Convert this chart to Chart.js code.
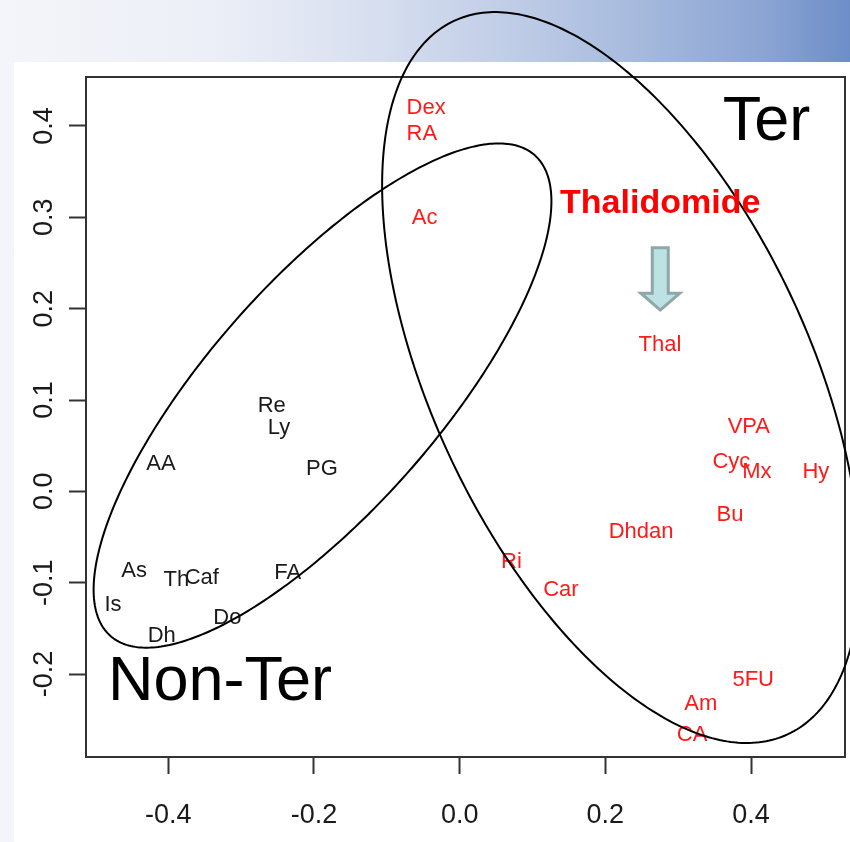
<!DOCTYPE html>
<html>
<head>
<meta charset="utf-8">
<script src="https://cdn.jsdelivr.net/npm/chart.js@4.4.1/dist/chart.umd.min.js"></script>
<style>
    html, body { margin: 0; padding: 0; }
    body {
        width: 850px; height: 842px; overflow: hidden; position: relative;
        background: linear-gradient(to right, #f4f5fa 0%, #eceff7 25%, #d6deef 45%, #c0cde7 60%, #a6badd 75%, #8ba4d3 90%, #6d8ec8 100%);
    }
    #panel { position: absolute; left: 14px; top: 62px; width: 836px; height: 780px; background: #fff; }
    #chartPCA { position: absolute; left: 0; top: 0; }
</style>
</head>
<body>
<div id="panel"></div>
<canvas id="chartPCA" width="850" height="842"></canvas>
<script>
// tick labels
const xTicks = [-0.4, -0.2, 0.0, 0.2, 0.4];
const yTicks = [-0.2, -0.1, 0.0, 0.1, 0.2, 0.3, 0.4];

// non teratogenic compounds (black)
const nonTerNames = ['AA', 'Re', 'Ly', 'PG', 'As', 'Th', 'Caf', 'FA', 'Is', 'Dh', 'Do'];
const nonTerX = [-0.410, -0.258, -0.248, -0.189, -0.447, -0.389, -0.354, -0.236, -0.476, -0.409, -0.319];
const nonTerY = [0.032, 0.096, 0.072, 0.027, -0.085, -0.095, -0.093, -0.087, -0.122, -0.156, -0.136];

// teratogenic compounds (red)
const terNames = ['Dex', 'RA', 'Ac', 'Thal', 'VPA', 'Cyc', 'Mx', 'Hy', 'Bu', 'Dhdan', 'Ri', 'Car', '5FU', 'Am', 'CA'];
const terX = [-0.046, -0.052, -0.048, 0.275, 0.397, 0.373, 0.408, 0.489, 0.371, 0.249, 0.071, 0.139, 0.403, 0.331, 0.319];
const terY = [0.422, 0.394, 0.301, 0.162, 0.073, 0.034, 0.023, 0.023, -0.024, -0.042, -0.075, -0.106, -0.204, -0.231, -0.265];

// group ellipses: centre and two half-axis vectors (data units)
const ellipseNonTer = { cx: -0.1883, cy: 0.1049, ux: 0.2911, uy: 0.2632, vx: 0.1184, vy: -0.0831 };
const ellipseTer = { cx: 0.2215, cy: 0.1246, ux: 0.2293, uy: -0.3904, vx: -0.2345, vy: -0.0874 };

const FONT = '"Liberation Sans", Arial, sans-serif';

// text labels at each point
const labelPlugin = {
    id: 'pointLabels',
    afterDatasetsDraw(chart) {
        const ctx = chart.ctx;
        ctx.save();
        ctx.font = '22px ' + FONT;
        ctx.textAlign = 'center';
        ctx.textBaseline = 'middle';
        chart.data.datasets.forEach((ds, i) => {
            const meta = chart.getDatasetMeta(i);
            ctx.fillStyle = ds.textColor;
            meta.data.forEach((pt, j) => ctx.fillText(ds.names[j], pt.x, pt.y + 2));
        });
        ctx.restore();
    }
};

// box, ellipses and slide annotations
const overlayPlugin = {
    id: 'overlay',
    afterDraw(chart) {
        const { ctx, chartArea: a, scales: { x, y } } = chart;
        ctx.save();
        ctx.strokeStyle = '#333';
        ctx.lineWidth = 2;
        ctx.strokeRect(a.left, a.top, a.right - a.left, a.bottom - a.top);

        [ellipseNonTer, ellipseTer].forEach(e => {
            ctx.beginPath();
            for (let k = 0; k <= 360; k++) {
                const t = k * Math.PI / 180;
                const px = x.getPixelForValue(e.cx + e.ux * Math.cos(t) + e.vx * Math.sin(t));
                const py = y.getPixelForValue(e.cy + e.uy * Math.cos(t) + e.vy * Math.sin(t));
                if (k === 0) ctx.moveTo(px, py); else ctx.lineTo(px, py);
            }
            ctx.closePath();
            ctx.strokeStyle = '#000';
            ctx.lineWidth = 2;
            ctx.stroke();
        });

        // arrow pointing at Thal
        const ax = x.getPixelForValue(0.2754);
        const top = y.getPixelForValue(0.2667);
        const neck = y.getPixelForValue(0.2170);
        const tip = y.getPixelForValue(0.1985);
        ctx.beginPath();
        ctx.moveTo(ax - 8, top);
        ctx.lineTo(ax + 8, top);
        ctx.lineTo(ax + 8, neck);
        ctx.lineTo(ax + 19.5, neck);
        ctx.lineTo(ax, tip);
        ctx.lineTo(ax - 19.5, neck);
        ctx.lineTo(ax - 8, neck);
        ctx.closePath();
        ctx.fillStyle = '#bde2e4';
        ctx.fill();
        ctx.strokeStyle = '#8fa7a9';
        ctx.lineWidth = 3;
        ctx.stroke();

        ctx.textBaseline = 'alphabetic';
        ctx.fillStyle = '#ff0000';
        ctx.font = 'bold 34px ' + FONT;
        ctx.textAlign = 'center';
        ctx.fillText('Thalidomide', x.getPixelForValue(0.2753), y.getPixelForValue(0.3045));

        ctx.fillStyle = '#000';
        ctx.font = '63px ' + FONT;
        ctx.textAlign = 'left';
        ctx.fillText('Ter', x.getPixelForValue(0.3612), y.getPixelForValue(0.3843));
        ctx.fillText('Non-Ter', x.getPixelForValue(-0.4828), y.getPixelForValue(-0.2282));
        ctx.restore();
    }
};

const toPoints = (xs, ys) => xs.map((v, i) => ({ x: v, y: ys[i] }));

const canvas = document.getElementById('chartPCA');
const ctx = canvas.getContext('2d');

const chartPCA = new Chart(ctx, {
    type: 'scatter',
    data: {
        datasets: [
            { label: 'Non-Ter', data: toPoints(nonTerX, nonTerY), names: nonTerNames, textColor: '#1a1a1a', pointRadius: 0 },
            { label: 'Ter', data: toPoints(terX, terY), names: terNames, textColor: '#ff1a1a', pointRadius: 0 }
        ]
    },
    options: {
        responsive: false,
        animation: false,
        layout: { padding: { top: 77, right: 5, left: 0, bottom: 0 } },
        plugins: { legend: { display: false }, tooltip: { enabled: false } },
        scales: {
            x: {
                type: 'linear',
                min: -0.513,
                max: 0.529,
                afterBuildTicks: s => { s.ticks = xTicks.map(v => ({ value: v })); },
                afterFit: s => { s.height = 85; },
                border: { display: false },
                grid: { drawOnChartArea: false, drawTicks: true, tickLength: 17, tickColor: '#333', tickWidth: 2 },
                ticks: {
                    callback: v => v.toFixed(1),
                    font: { size: 27, family: FONT },
                    color: '#1a1a1a',
                    padding: 25,
                    maxRotation: 0
                }
            },
            y: {
                type: 'linear',
                min: -0.2908,
                max: 0.4536,
                afterBuildTicks: s => { s.ticks = yTicks.map(v => ({ value: v })); },
                afterFit: s => { s.width = 86; },
                border: { display: false },
                grid: { drawOnChartArea: false, drawTicks: true, tickLength: 17, tickColor: '#333', tickWidth: 2 },
                ticks: {
                    callback: v => v.toFixed(1),
                    font: { size: 27, family: FONT },
                    color: '#1a1a1a',
                    padding: 1,
                    minRotation: 90,
                    maxRotation: 90,
                    crossAlign: 'center'
                }
            }
        }
    },
    plugins: [labelPlugin, overlayPlugin]
});
</script>
</body>
</html>
